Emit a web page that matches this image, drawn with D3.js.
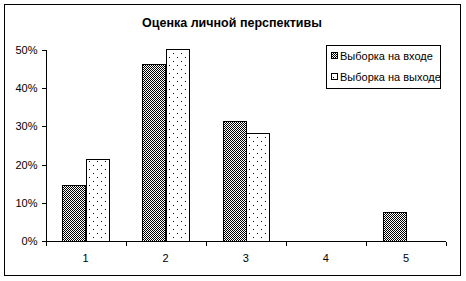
<!DOCTYPE html>
<html><head><meta charset="utf-8">
<script src="https://cdn.jsdelivr.net/npm/d3@7"></script>
<style>body{margin:0;background:#fff}svg{display:block}</style>
</head><body>
<script>
const categories = ["1","2","3","4","5"];
const seriesNames = ["Выборка на входе","Выборка на выходе"];
const inputValues = [0.147, 0.463, 0.314, 0, 0.076];
const outputValues = [0.214, 0.502, 0.282, 0, 0];
const yTicks = [0,0.1,0.2,0.3,0.4,0.5];
const title = "Оценка личной перспективы";

(function(){
const W=466,H=281;
const svg=d3.select("body").append("svg").attr("width",W).attr("height",H)
  .attr("shape-rendering","crispEdges");
const defs=svg.append("defs");
const p1=defs.append("pattern").attr("id","checker").attr("patternUnits","userSpaceOnUse").attr("width",2).attr("height",2);
p1.append("rect").attr("width",2).attr("height",2).attr("fill","#fff");
p1.append("rect").attr("width",1).attr("height",1).attr("fill","#000");
p1.append("rect").attr("x",1).attr("y",1).attr("width",1).attr("height",1).attr("fill","#000");
const p2=defs.append("pattern").attr("id","dots").attr("patternUnits","userSpaceOnUse").attr("width",8).attr("height",8);
p2.append("rect").attr("width",8).attr("height",8).attr("fill","#fff");
p2.append("rect").attr("x",1).attr("y",1).attr("width",1).attr("height",1).attr("fill","#000");
p2.append("rect").attr("x",5).attr("y",5).attr("width",1).attr("height",1).attr("fill","#000");
const fills=["url(#checker)","url(#dots)"];

svg.append("rect").attr("x",4.5).attr("y",4.5).attr("width",456).attr("height",271)
  .attr("fill","#fff").attr("stroke","#000").attr("stroke-width",1);

svg.append("text").attr("x",232).attr("y",27).attr("text-anchor","middle")
  .attr("font-family","Liberation Sans, Arial, sans-serif").attr("font-size",12.5).attr("font-weight","bold")
  .text(title);

const pl=45.5,pr=446,pt=50,pb=241;
const x=d3.scaleBand().domain(categories).range([pl,pr]).paddingInner(0.42).paddingOuter(0.21);
const x1=d3.scaleBand().domain([0,1]).range([0,x.bandwidth()]);
const y=d3.scaleLinear().domain([0,0.5]).range([pb,pt]);

const data=categories.map((c,i)=>({c,vals:[inputValues[i],outputValues[i]]}));
const g=svg.append("g");
data.forEach(d=>{
  d.vals.forEach((v,k)=>{
    if(v<=0) return;
    g.append("rect")
      .attr("x",Math.round(x(d.c)+x1(k))+0.5)
      .attr("y",Math.round(y(v))+0.5)
      .attr("width",Math.round(x1.bandwidth()))
      .attr("height",Math.round(pb-y(v)))
      .attr("fill",fills[k]).attr("stroke","#000").attr("stroke-width",1);
  });
});

const font="Liberation Sans, Arial, sans-serif";
const yAxis=d3.axisLeft(y).tickValues(yTicks).tickFormat(d3.format(".0%")).tickSize(4).tickPadding(4);
const ya=svg.append("g").attr("transform",`translate(${Math.floor(pl)+0.5},0)`).call(yAxis);
ya.select(".domain").attr("stroke","#000");
ya.selectAll("text").attr("font-family",font).attr("font-size",11).attr("fill","#000");

const xb=svg.append("g").attr("transform",`translate(0,${pb+0.5})`);
xb.append("line").attr("x1",pl).attr("x2",pr).attr("stroke","#000");
const bounds=[pl].concat(categories.map((c,i)=>pl+(pr-pl)*(i+1)/categories.length));
xb.selectAll("line.t").data(bounds).join("line").attr("class","t")
  .attr("x1",d=>Math.round(d)+0.5).attr("x2",d=>Math.round(d)+0.5).attr("y1",0).attr("y2",4).attr("stroke","#000");
xb.selectAll("text").data(categories).join("text")
  .attr("x",d=>x(d)+x.bandwidth()/2).attr("y",20).attr("text-anchor","middle")
  .attr("font-family",font).attr("font-size",11).attr("fill","#000").text(d=>d);

const lg=svg.append("g");
lg.append("rect").attr("x",326.5).attr("y",45.5).attr("width",114).attr("height",43)
  .attr("fill","#fff").attr("stroke","#000");
seriesNames.forEach((n,i)=>{
  const yy=56+i*21;
  lg.append("rect").attr("x",331.5).attr("y",yy-3.5).attr("width",6).attr("height",6)
    .attr("fill",fills[i]).attr("stroke","#000");
  lg.append("text").attr("x",340).attr("y",yy+4).attr("font-family",font).attr("font-size",11)
    .attr("fill","#000").text(n);
});
})();
</script>
</body></html>
